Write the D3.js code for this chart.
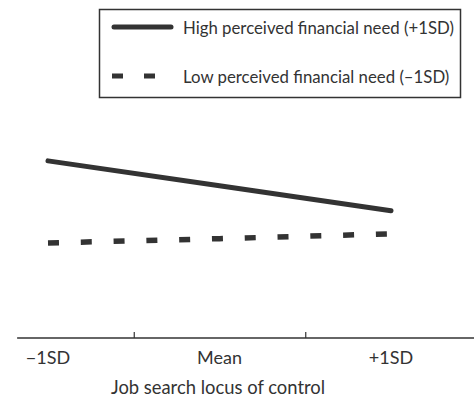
<!DOCTYPE html>
<html><head><meta charset="utf-8">
<script src="https://cdn.jsdelivr.net/npm/d3@7"></script>
<style>
html,body{margin:0;padding:0;background:#fff;}
svg{display:block;}
text{font-family:Lato,"Open Sans",sans-serif;fill:#333;}
</style></head>
<body>
<script>
const categories = ["\u22121SD", "Mean", "+1SD"];
const highNeed = [3.69, 3.17, 2.65];
const lowNeed = [1.98, 2.07, 2.17];
const seriesNames = ["High perceived financial need (+1SD)", "Low perceived financial need (\u20131SD)"];
const xTitle = "Job search locus of control";

const W = 474, H = 403;
const color = "#333";
const svg = d3.select("body").append("svg").attr("width", W).attr("height", H);

const xi = d3.scaleLinear().domain([0, 2]).range([48, 391]);
const y = d3.scaleLinear().domain([0, 5]).range([338, 98]);

// axis line
svg.append("line")
  .attr("x1", xi(-0.18)).attr("x2", W)
  .attr("y1", y(0)).attr("y2", y(0))
  .attr("stroke", color).attr("stroke-width", 1.5);

const axis = d3.axisBottom(xi).tickValues([0.5, 1.5]).tickSizeInner(-6).tickSizeOuter(0).tickFormat("");
const ag = svg.append("g").attr("transform", `translate(0,${y(0)})`).call(axis);
ag.select(".domain").remove();
ag.selectAll(".tick line").attr("stroke", color).attr("stroke-width", 1.2);

// category labels
svg.selectAll("text.cat").data(categories).join("text")
  .attr("class", "cat")
  .attr("x", (d, i) => xi(i)).attr("y", 364)
  .attr("text-anchor", "middle").style("font-size", "18px")
  .text(d => d);

svg.append("text").attr("x", 218).attr("y", 394)
  .attr("text-anchor", "middle").style("font-size", "18.4px").text(xTitle);

const line = d3.line().x((d, i) => xi(i)).y(d => y(d));

svg.append("path").datum(highNeed).attr("d", line)
  .attr("fill", "none").attr("stroke", color).attr("stroke-width", 5).attr("stroke-linecap", "round");
svg.append("path").datum(lowNeed).attr("d", line)
  .attr("fill", "none").attr("stroke", color).attr("stroke-width", 5.5)
  .attr("stroke-dasharray", "11,21.8");

// legend
const lg = svg.append("g");
lg.append("rect").attr("x", 99.5).attr("y", 9.5).attr("width", 361).attr("height", 88)
  .attr("fill", "none").attr("stroke", color).attr("stroke-width", 1.5);
lg.append("line").attr("x1", 114).attr("x2", 171).attr("y1", 27).attr("y2", 27)
  .attr("stroke", color).attr("stroke-width", 5).attr("stroke-linecap", "round");
lg.append("line").attr("x1", 112).attr("x2", 155).attr("y1", 76).attr("y2", 76)
  .attr("stroke", color).attr("stroke-width", 5).attr("stroke-dasharray", "11,21");
lg.selectAll("text.leg").data(seriesNames).join("text").attr("class", "leg")
  .attr("x", 183).attr("y", (d, i) => i === 0 ? 34 : 83)
  .style("font-size", "16.8px").text(d => d);
</script>
</body></html>
